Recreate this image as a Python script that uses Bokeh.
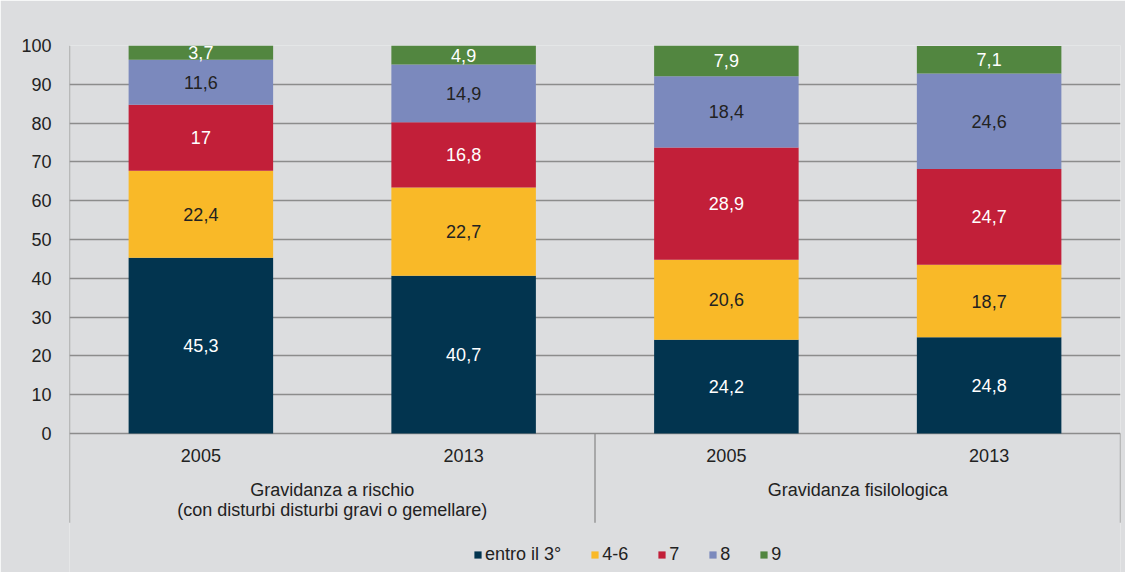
from bokeh.plotting import figure
from bokeh.models import ColumnDataSource, FixedTicker, Legend, LegendItem, Range1d
from bokeh.core.properties import value
from bokeh.embed import file_html
from bokeh.resources import INLINE

# ---- data ----
years = ["2005", "2013", "2005", "2013"]
groups = ["Gravidanza a rischio\n(con disturbi disturbi gravi o gemellare)",
          "Gravidanza fisilologica"]
series_names = ["entro il 3°", "4-6", "7", "8", "9"]
entro = [45.3, 40.7, 24.2, 24.8]
s46 = [22.4, 22.7, 20.6, 18.7]
s7 = [17, 16.8, 28.9, 24.7]
s8 = [11.6, 14.9, 18.4, 24.6]
s9 = [3.7, 4.9, 7.9, 7.1]
y_ticks = list(range(0, 101, 10))

series = [entro, s46, s7, s8, s9]
colors = ["#02344f", "#f9b928", "#c21f39", "#7b89bd", "#528640"]
label_colors = ["#ffffff", "#222222", "#ffffff", "#222222", "#ffffff"]
FONT = "Liberation Sans"
FS = "18px"
BG = "#dcdddf"
GRID = "#8c8c8c"
Y_MIN = -35.8   # room below the bars for category labels and legend
SEP_BOTTOM = -23

xs = [i + 0.5 for i in range(len(years))]
keys = ["s%d" % i for i in range(len(series))]
data = {"x": xs}
for k, s in zip(keys, series):
    data[k] = s
src = ColumnDataSource(data)

p = figure(width=1125, height=572, output_backend="svg", toolbar_location=None,
           x_range=Range1d(0, len(years)), y_range=Range1d(Y_MIN, 100),
           x_axis_type=None, min_border_left=69, min_border_right=5,
           min_border_top=45, min_border_bottom=0)
p.background_fill_color = BG
p.border_fill_color = BG
p.outline_line_color = None
p.xgrid.visible = False
p.ygrid.ticker = FixedTicker(ticks=y_ticks)
p.ygrid.grid_line_color = GRID
p.ygrid.grid_line_width = 1.3

p.yaxis.ticker = FixedTicker(ticks=y_ticks)
p.yaxis.axis_line_color = None
p.yaxis.major_tick_line_color = None
p.yaxis.minor_tick_line_color = None
p.yaxis.major_label_text_font = FONT
p.yaxis.major_label_text_font_size = FS
p.yaxis.major_label_text_color = "#222222"
p.yaxis.major_label_standoff = 12

renderers = p.vbar_stack(keys, x="x", width=0.55, color=colors, source=src,
                         line_color=None)

# segment value labels
bottoms = [0.0] * len(years)
for s, lc in zip(series, label_colors):
    centers = [b + v / 2 for b, v in zip(bottoms, s)]
    texts = [("%g" % v).replace(".", ",") for v in s]
    p.text(x=xs, y=centers, text=texts, text_color=lc, text_font=value(FONT),
           text_font_size=FS, text_align="center", text_baseline="middle")
    bottoms = [b + v for b, v in zip(bottoms, s)]

# category labels (years) and group labels
p.text(x=xs, y=[-5.7] * len(xs), text=years, text_color="#222222",
       text_font=value(FONT), text_font_size=FS, text_align="center",
       text_baseline="middle")
gx = [2 * i + 1 for i in range(len(groups))]
p.text(x=gx, y=[-12.0] * len(gx), text=groups, text_color="#222222",
       text_font=value(FONT), text_font_size=FS, text_align="center",
       text_baseline="top", text_line_height=1.0)

# y axis line and group separators
sep_x = [2 * i for i in range(len(groups) + 1)]
sep_top = [100] + [0] * len(groups)
p.segment(x0=sep_x, y0=sep_top, x1=sep_x, y1=[SEP_BOTTOM] * len(sep_x),
          line_color=GRID, line_width=1.3)

legend = Legend(items=[LegendItem(label=n, renderers=[r])
                       for n, r in zip(series_names, renderers)],
                orientation="horizontal", location=(404, 7))
legend.background_fill_alpha = 0
legend.border_line_alpha = 0
legend.glyph_width = 9
legend.glyph_height = 9
legend.label_text_font = FONT
legend.label_text_font_size = FS
legend.label_text_color = "#222222"
legend.label_standoff = 3
legend.label_width = 5
legend.spacing = 29
legend.padding = 0
legend.margin = 0
p.add_layout(legend, "center")

open("out.html", "w").write(file_html(p, INLINE))
